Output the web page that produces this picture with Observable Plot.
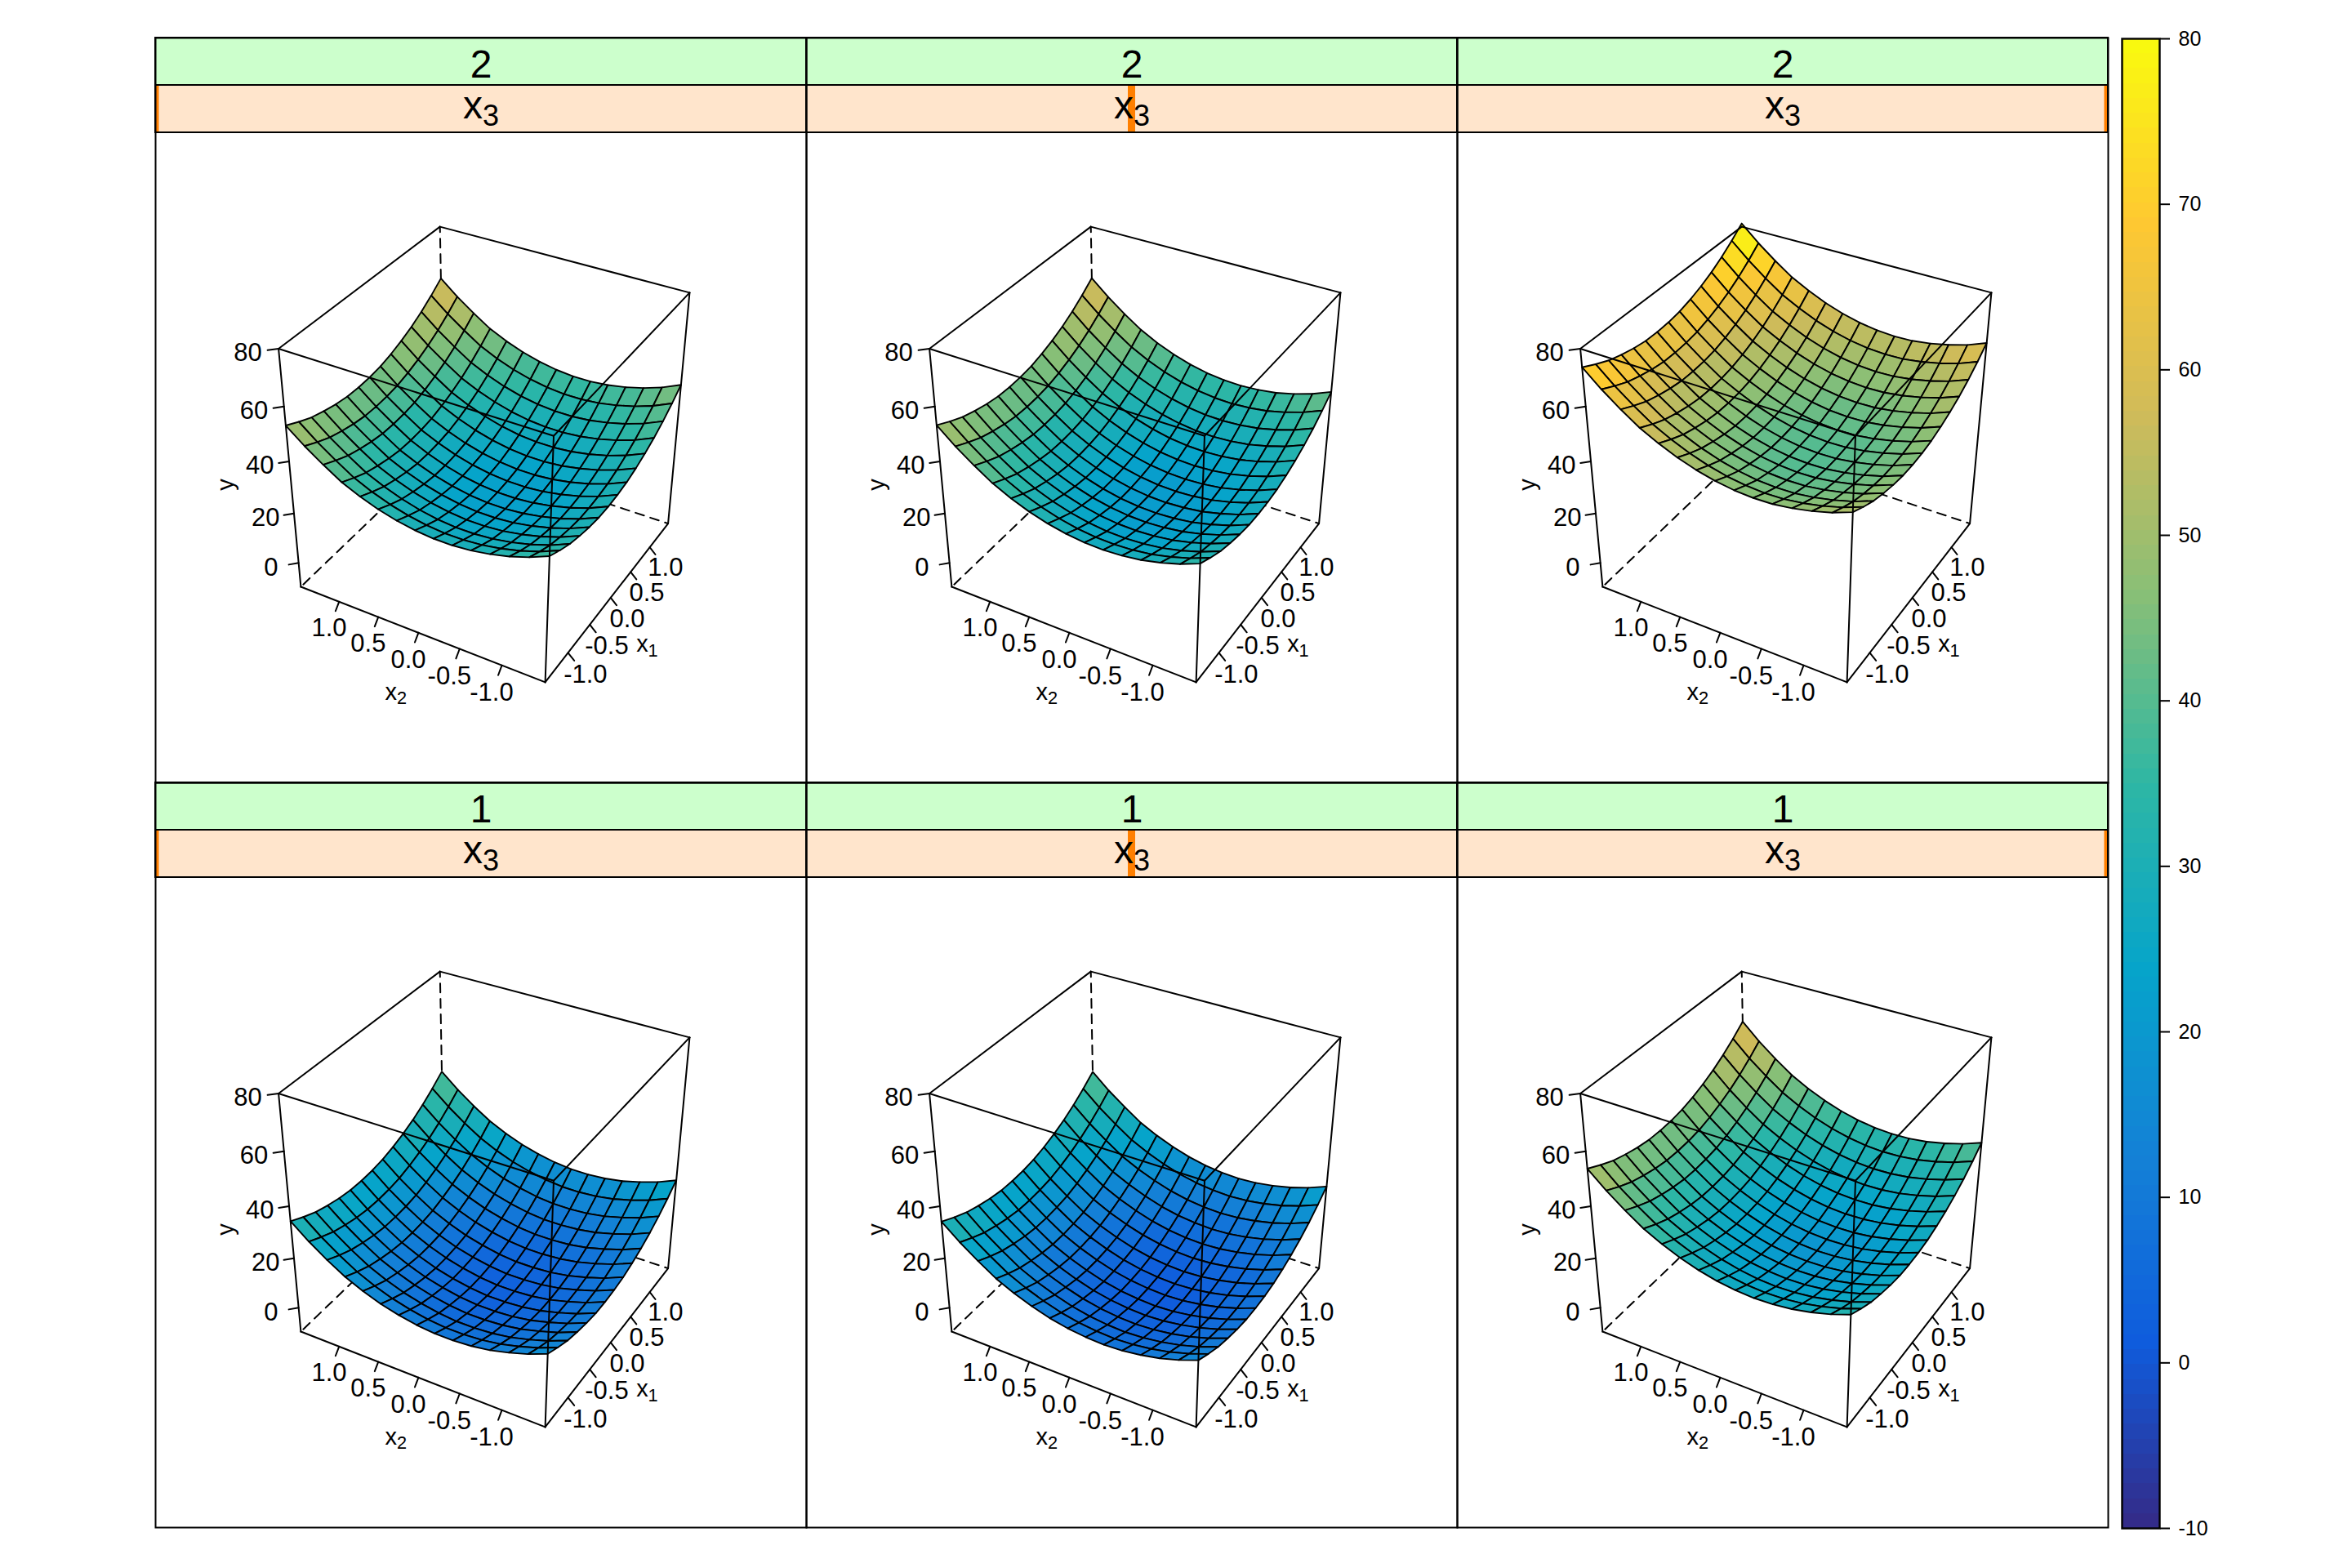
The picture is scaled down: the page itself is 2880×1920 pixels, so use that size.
<!DOCTYPE html>
<html><head><meta charset="utf-8">
<script src="https://cdn.jsdelivr.net/npm/d3@7"></script>
<script src="https://cdn.jsdelivr.net/npm/@observablehq/plot@0.6"></script>
<style>html,body{margin:0;background:#fff}#c{position:relative;width:2880px;height:1920px;overflow:hidden}#c>div,#c>svg{position:absolute;top:0}</style>
</head><body><div id="c"></div>
<script>
// ---- chart values ----
const rowLabels = ["2", "1"];
const x3Levels = [-1, 0, 1];
const grid = [-1.5,-1.286,-1.071,-0.857,-0.643,-0.429,-0.214,0,0.214,0.429,0.643,0.857,1.071,1.286,1.5];
const axisTicks = [-1, -0.5, 0, 0.5, 1];
const axisTickLabels = ["-1.0", "-0.5", "0.0", "0.5", "1.0"];
const yTicks = [0, 20, 40, 60, 80];
const colorTicks = [-10, 0, 10, 20, 30, 40, 50, 60, 70, 80];
const paletteStops = [-10, 1.25, 12.5, 23.75, 35, 46.25, 57.5, 68.75, 80];
const paletteColors = ["#352a87","#0f5cdd","#1481d6","#06a4ca","#2eb7a4","#87bf77","#d1bb59","#fec832","#f9fb0e"];
const panelLevels = [23.2, 21.9, 41.4, 3.9, 2.6, 21];
const x1Effect = [7.5,5.1,3,1.6,0.5,-0.2,-0.3,0,0.7,2,3.7,5.8,8.4,11.5,15];
const x2EffectP1 = [8.2,5.2,2.9,1.2,0,-0.6,-0.6,0,1.2,3,5.4,8.4,12.6,17.2,22.5];
const x2EffectP2 = [6.8,4,1.9,0.3,-0.6,-1,-0.8,0,1.4,3.4,6,9.3,13.6,18.4,23.9];
const x2EffectP3 = [5.6,3,1.1,-0.3,-1.2,-1.4,-1,0,1.6,3.8,6.6,9.9,14.3,19.2,24.8];
const x2EffectP4 = [7.8,4.9,2.7,0.9,-0.2,-0.7,-0.7,0,1.3,3.1,5.6,8.7,12.8,17.5,22.9];
const x2EffectP5 = [6.6,3.9,1.8,0.3,-0.7,-1.1,-0.8,0,1.4,3.5,6.1,9.3,13.7,18.5,24.1];
const x2EffectP6 = [5.4,2.9,1,-0.4,-1.2,-1.4,-1,0,1.6,3.8,6.6,10,14.5,19.5,25.3];
const x2Effects = [x2EffectP1,x2EffectP2,x2EffectP3,x2EffectP4,x2EffectP5,x2EffectP6];
const x1Range = [-1.5, 1.5], x2Range = [-1.5, 1.5], yRange = [-10, 80];

// ---- layout ----
const panelW = 797, panelH = 912, stripH = 58;
const panels = d3.range(6).map(p => ({p, col: p % 3, row: Math.floor(p / 3)}));

// ---- camera: perspective map from the unit cube, fitted to the box corners ----
const cubeCorners = [
 [ 1, 1, 1, 350,230],[-1, 1, 1, 150,381],[ 1,-1, 1, 653,312],[-1,-1, 1, 487,488],
 [-1, 1,-1, 178,670],[-1,-1,-1, 478,790],[ 1,-1,-1, 628,593],[ 1, 1,-1, 352,506]];
function solve(A, b) {
  const n = b.length, M = A.map((r, i) => [...r, b[i]]);
  for (let i = 0; i < n; i++) {
    let k = i; for (let r = i + 1; r < n; r++) if (Math.abs(M[r][i]) > Math.abs(M[k][i])) k = r;
    [M[i], M[k]] = [M[k], M[i]];
    for (let r = 0; r < n; r++) if (r !== i) { const f = M[r][i] / M[i][i]; for (let c = i; c <= n; c++) M[r][c] -= f * M[i][c]; }
  }
  return M.map((r, i) => r[n] / r[i]);
}
const cam = (() => {
  const rows = [], rhs = [];
  for (const [a, b, c, u, v] of cubeCorners) {
    rows.push([a,b,c,1,0,0,0,0,-u*a,-u*b,-u*c]); rhs.push(u);
    rows.push([0,0,0,0,a,b,c,1,-v*a,-v*b,-v*c]); rhs.push(v);
  }
  const AtA = d3.range(11).map(i => d3.range(11).map(j => d3.sum(rows, r => r[i] * r[j])));
  const Atb = d3.range(11).map(i => d3.sum(rows, (r, k) => r[i] * rhs[k]));
  return solve(AtA, Atb);
})();
const projectCube = (a, b, c) => {
  const w = cam[8]*a + cam[9]*b + cam[10]*c + 1;
  return [(cam[0]*a + cam[1]*b + cam[2]*c + cam[3]) / w, (cam[4]*a + cam[5]*b + cam[6]*c + cam[7]) / w];
};
const norm = (v, [a, b]) => (2 * v - a - b) / (b - a);
const project = (x1, x2, y) => projectCube(norm(x1, x1Range), norm(x2, x2Range), norm(y, yRange));

// ---- table of surface cells, far cells first ----
const binned = v => Math.floor((v + 10) / 0.9) * 0.9 - 10 + 0.45;
const cells = [];
for (const {p, col, row} of panels) {
  const z = (i, j) => panelLevels[p] + x1Effect[i] + x2Effects[p][j];
  for (let i = grid.length - 2; i >= 0; i--) for (let j = grid.length - 2; j >= 0; j--) {
    const idx = [[i,j],[i+1,j],[i+1,j+1],[i,j+1]];
    const v = binned(d3.mean(idx, ([a, b]) => z(a, b)));
    for (const [a, b] of idx) {
      const [u, w] = project(grid[a], grid[b], z(a, b));
      cells.push({id: `${p}-${i}-${j}`, col, row, v, u, w});
    }
  }
}

// ---- box edges ----
const hiddenEdges = [[[1,1,-1],[1,1,1]],[[1,1,-1],[-1,1,-1]],[[1,1,-1],[1,-1,-1]]];
const shownEdges = [
 [[1,1,1],[-1,1,1]],[[1,1,1],[1,-1,1]],[[-1,-1,1],[-1,1,1]],[[-1,-1,1],[1,-1,1]],
 [[-1,1,1],[-1,1,-1]],[[1,-1,1],[1,-1,-1]],[[-1,-1,1],[-1,-1,-1]],
 [[-1,1,-1],[-1,-1,-1]],[[-1,-1,-1],[1,-1,-1]]];
const edgeRows = list => panels.flatMap(({p, col, row}) => list.flatMap((ed, k) => ed.map(c => {
  const [u, w] = projectCube(...c); return {id: `${p}-${k}`, col, row, u, w};
})));

// ---- axis ticks and labels: outward factors as in a 3-D lattice box ----
const TICK = 1.05, LABEL = 1.14, TITLE = 1.31;
const axisPoint = (kind, t, f) =>
  kind === "x1" ? projectCube(norm(t, x1Range), -f, -f)
  : kind === "x2" ? projectCube(-f, norm(t, x2Range), -f)
  : projectCube(-f, f, norm(t, yRange));
const tickDefs = [
  ...axisTicks.map((t, i) => ({kind: "x1", t, s: axisTickLabels[i]})),
  ...axisTicks.map((t, i) => ({kind: "x2", t, s: axisTickLabels[i]})),
  ...yTicks.map(t => ({kind: "y", t, s: String(t)}))];
const tickRows = panels.flatMap(({p, col, row}) => tickDefs.flatMap((d, k) =>
  [1, TICK].map(f => { const [u, w] = axisPoint(d.kind, d.t, f); return {id: `${p}-${k}`, col, row, u, w}; })));
const tickLabelRows = panels.flatMap(({col, row}) => tickDefs.map(d => {
  const [u, w] = axisPoint(d.kind, d.t, LABEL); return {col, row, u, w, s: d.s};
}));
const titleRows = panels.flatMap(({col, row}) => [
  {kind: "x1", t: 0, s: "x\u2081"}, {kind: "x2", t: 0, s: "x\u2082"}, {kind: "y", t: 35, s: "y"}
].map(d => { const [u, w] = axisPoint(d.kind, d.t, TITLE); return {col, row, u, w, s: d.s, a: d.kind === "y" ? -90 : 0}; }));

// ---- strips ----
const stripRows = panels.map(({p, col, row}) => ({col, row, label: rowLabels[row], level: x3Levels[col]}));
const levelX = l => (l + 1) / 2 * panelW;
const bandHalf = 4.5;

const color = {type: "linear", domain: paletteStops, range: paletteColors, clamp: true};
const font = "'Liberation Sans', Arial, sans-serif";
const facet = {fx: "col", fy: "row"};
const lineBase = {x: "u", y: "w", z: "id", stroke: "#000", ...facet};

const main = Plot.plot({
  width: 2880, height: 1920,
  marginLeft: 190, marginRight: 299, marginTop: 46, marginBottom: 50,
  style: {fontFamily: font, background: "transparent", color: "#000"},
  x: {domain: [0, panelW], axis: null},
  y: {domain: [panelH, 0], axis: null},
  fx: {domain: [0, 1, 2], padding: 0, axis: null},
  fy: {domain: [0, 1], padding: 0, axis: null},
  color,
  marks: [
    Plot.rect(stripRows, {x1: 0, x2: panelW, y1: 0, y2: stripH, fill: "#CCFFCC", stroke: "#000", strokeWidth: 2, ...facet}),
    Plot.rect(stripRows, {x1: 0, x2: panelW, y1: stripH, y2: 2 * stripH, fill: "#FFE5CC", ...facet}),
    Plot.rect(stripRows, {x1: d => Math.max(0, levelX(d.level) - bandHalf), x2: d => Math.min(panelW, levelX(d.level) + bandHalf), y1: stripH, y2: 2 * stripH, fill: "#FF7F00", ...facet}),
    Plot.rect(stripRows, {x1: 0, x2: panelW, y1: stripH, y2: 2 * stripH, fill: "none", stroke: "#000", strokeWidth: 2, ...facet}),
    Plot.text(stripRows, {x: panelW / 2, y: stripH / 2 + 4.5, text: "label", fontSize: 48, fill: "#000", ...facet}),
    Plot.text(stripRows, {x: panelW / 2, y: stripH * 1.5 - 4, text: () => "x\u2083", fontSize: 48, fill: "#000", ...facet}),
    Plot.line(edgeRows(hiddenEdges), {...lineBase, strokeWidth: 2, strokeDasharray: "11,8"}),
    Plot.line(cells, {...lineBase, fill: "v", curve: "linear-closed", strokeWidth: 1.9}),
    Plot.line(edgeRows(shownEdges), {...lineBase, strokeWidth: 2}),
    Plot.line(tickRows, {...lineBase, strokeWidth: 2}),
    Plot.text(tickLabelRows, {x: "u", y: "w", text: "s", fontSize: 31, fill: "#000", ...facet}),
    Plot.text(titleRows, {x: "u", y: "w", text: "s", rotate: "a", fontSize: 29, fill: "#000", ...facet}),
    Plot.frame({stroke: "#000", strokeWidth: 2})
  ]
});

// ---- colour key ----
const keyBins = d3.range(100).map(i => ({lo: -10 + i * 0.9, hi: -10 + (i + 1) * 0.9}));
const key = Plot.plot({
  width: 290, height: 1920,
  marginLeft: 8, marginRight: 236, marginTop: 47, marginBottom: 49,
  style: {fontFamily: font, background: "transparent", color: "#000", overflow: "visible"},
  x: {domain: [0, 1], axis: null},
  y: {domain: yRange, axis: null},
  color,
  marks: [
    Plot.rect(keyBins, {x1: 0, x2: 1, y1: "lo", y2: "hi", fill: d => (d.lo + d.hi) / 2, shapeRendering: "crispEdges"}),
    Plot.frame({stroke: "#000", strokeWidth: 2.4}),
    Plot.axisY(colorTicks, {anchor: "right", tickSize: 12, tickPadding: 11, fontSize: 25, strokeWidth: 2, tickFormat: d => String(d), label: null, fill: "#000"})
  ]
});
key.style.left = "2590px";
const host = document.getElementById("c");
host.append(main, key);

// ---- real subscripts for the axis and strip names ----
const subs = {"\u2081": "1", "\u2082": "2", "\u2083": "3"};
main.querySelectorAll("text").forEach(t => {
  const s = t.textContent;
  if (s.length === 2 && s[0] === "x" && subs[s[1]]) {
    t.textContent = "x";
    const ts = document.createElementNS("http://www.w3.org/2000/svg", "tspan");
    ts.setAttribute("dy", "0.25em"); ts.setAttribute("font-size", "0.75em"); ts.textContent = subs[s[1]];
    t.appendChild(ts);
  }
});
</script></body></html>
